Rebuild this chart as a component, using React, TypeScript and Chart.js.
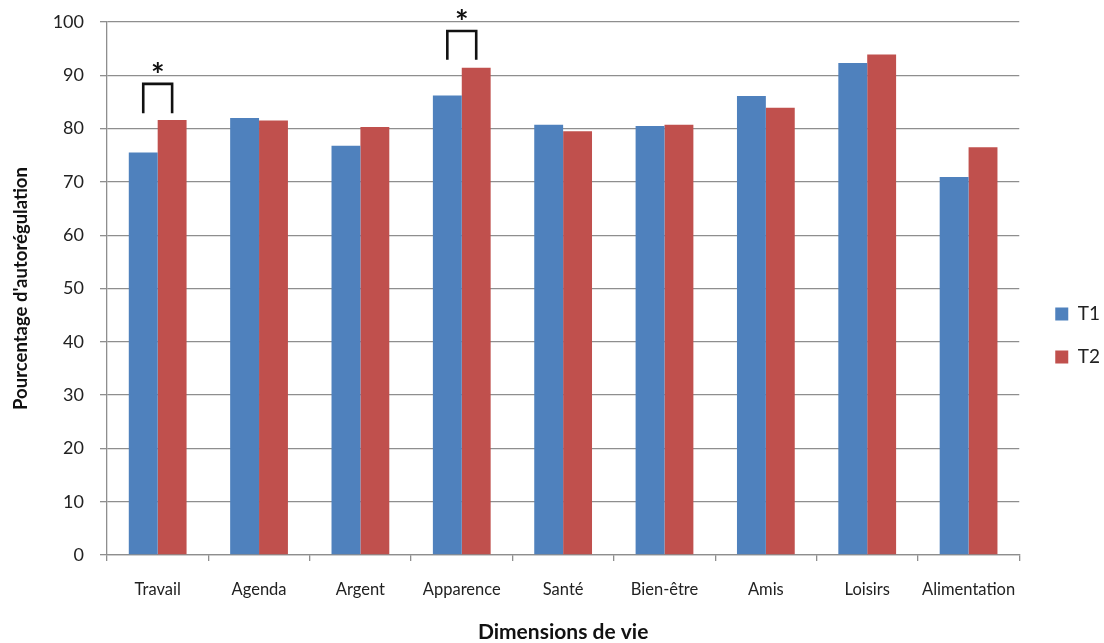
import React, { useEffect, useRef } from "react";
import { Chart, registerables } from "chart.js";

Chart.register(...registerables);

const categories = ["Travail", "Agenda", "Argent", "Apparence", "Santé", "Bien-être", "Amis", "Loisirs", "Alimentation"];
const seriesNames = ["T1", "T2"];
const t1Values = [75.5, 82.0, 76.8, 86.2, 80.7, 80.5, 86.1, 92.3, 70.9];
const t2Values = [81.6, 81.5, 80.3, 91.4, 79.5, 80.7, 83.9, 93.9, 76.5];
const yTicks = [0, 10, 20, 30, 40, 50, 60, 70, 80, 90, 100];
const significantIdx = [0, 3];
const bracketTop = [88.4, 98.3];
const bracketBottom = [82.9, 92.9];
const starValue = [87.8, 97.7];

const FONT = "Lato, 'Open Sans', sans-serif";

const bracketPlugin = {
  id: "brackets",
  afterLayout(chart: any) {
    const lg = chart.legend;
    if (lg) {
      lg.left += 12;
      lg.right += 12;
      lg.top += 3;
      lg.bottom += 3;
    }
  },
  afterDatasetsDraw(chart: any) {
    const ctx = chart.ctx;
    const y = chart.scales.y;
    const m0 = chart.getDatasetMeta(0);
    const m1 = chart.getDatasetMeta(1);
    ctx.save();
    ctx.strokeStyle = "#111";
    ctx.lineWidth = 2.6;
    ctx.lineJoin = "miter";
    significantIdx.forEach((idx, k) => {
      const x1 = m0.data[idx].x;
      const x2 = m1.data[idx].x;
      const yt = y.getPixelForValue(bracketTop[k]);
      const yb = y.getPixelForValue(bracketBottom[k]);
      ctx.beginPath();
      ctx.moveTo(x1, yb);
      ctx.lineTo(x1, yt);
      ctx.lineTo(x2, yt);
      ctx.lineTo(x2, yb);
      ctx.stroke();
      ctx.fillStyle = "#111";
      ctx.font = `bold 32px ${FONT}`;
      ctx.textAlign = "center";
      ctx.textBaseline = "alphabetic";
      ctx.fillText("*", (x1 + x2) / 2, y.getPixelForValue(starValue[k]));
    });
    ctx.restore();
  },
};

export default function App() {
  const ref = useRef<HTMLCanvasElement>(null);
  useEffect(() => {
    if (!ref.current) return;
    const chart = new Chart(ref.current, {
      type: "bar",
      data: {
        labels: categories,
        datasets: [
          { label: seriesNames[0], data: t1Values, backgroundColor: "#4F81BD", borderWidth: 0 },
          { label: seriesNames[1], data: t2Values, backgroundColor: "#C0504D", borderWidth: 0 },
        ],
      },
      options: {
        animation: false,
        responsive: false,
        devicePixelRatio: 1,
        layout: { padding: { top: 22, right: 6, left: 0, bottom: 0 } },
        datasets: { bar: { barPercentage: 1, categoryPercentage: 0.57 } } as any,
        plugins: {
          tooltip: { enabled: false },
          legend: {
            position: "right",
            align: "center",
            labels: {
              boxWidth: 13,
              boxHeight: 13,
              padding: 24,
              color: "#222",
              font: { family: FONT, size: 19 },
            },
          },
        },
        scales: {
          x: {
            grid: { display: true, drawOnChartArea: false, offset: true, tickLength: 6, color: "#8e8e8e", lineWidth: 1.3 },
            border: { color: "#8e8e8e", width: 1.3 },
            ticks: { color: "#222", font: { family: FONT, size: 16.5 }, padding: 19, maxRotation: 0, autoSkip: false },
            title: { display: true, text: "Dimensions de vie", color: "#111", font: { family: FONT, size: 21, weight: "bold", lineHeight: 1 }, padding: { top: 0, bottom: 0 } },
            afterFit: (s: any) => { s.height = 88; s.paddingTop = 0; },
          },
          y: {
            min: 0,
            max: 100,
            afterBuildTicks: (s: any) => { s.ticks = yTicks.map((v) => ({ value: v })); },
            grid: { color: "#8e8e8e", lineWidth: 1.3, tickLength: 7 },
            border: { color: "#8e8e8e", width: 1.3 },
            ticks: { color: "#222", font: { family: FONT, size: 18 }, padding: 16 },
            title: { display: true, text: "Pourcentage d'autorégulation", color: "#111", font: { family: FONT, size: 18.5, weight: "bold" }, padding: { top: 10, bottom: 0 } },
            afterFit: (s: any) => { s.width = 107; s.paddingTop = 0; s.paddingBottom = 0; },
          },
        },
      },
      plugins: [bracketPlugin],
    });
    return () => chart.destroy();
  }, []);
  return (
    <div style={{ position: "fixed", left: 0, top: 0, width: 1104, height: 643, background: "#fff" }}>
      <canvas ref={ref} width={1104} height={643} style={{ width: 1104, height: 643, display: "block" }} />
    </div>
  );
}
